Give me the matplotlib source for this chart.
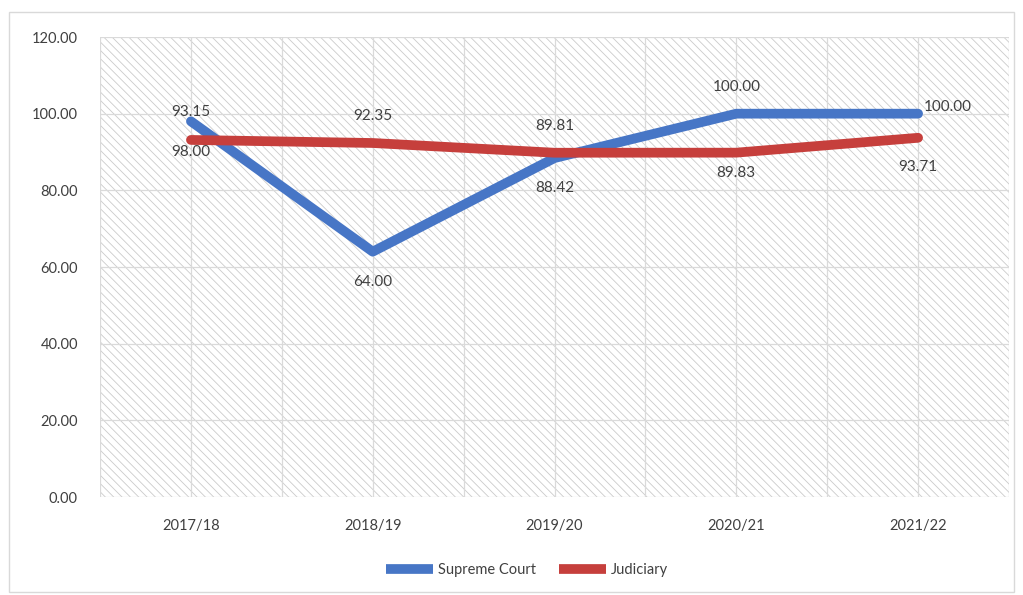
import matplotlib.pyplot as plt
from matplotlib.patches import Rectangle

plt.rcParams['font.family'] = ['Lato', 'DejaVu Sans']
plt.rcParams['hatch.linewidth'] = 0.6

years = ['2017/18', '2018/19', '2019/20', '2020/21', '2021/22']
supreme_court = [98.00, 64.00, 88.42, 100.00, 100.00]
judiciary = [93.15, 92.35, 89.81, 89.83, 93.71]

# label offsets in pixels (dx, dy) for each point
sc_offsets = [(0, -31), (0, -30), (0, -30), (0, 27), (30, 7)]
jud_offsets = [(0, 28), (0, 27), (0, 27), (0, -20), (0, -29)]

blue = '#4776C6'
red = '#C63F3C'
txt = '#404040'

fig = plt.figure(figsize=(10.23, 5.95), dpi=100)
ax = fig.add_axes([0.0978, 0.1647, 0.8885, 0.7731])

# outer chart border
fig.patches.append(Rectangle((9 / 1023, 3 / 595), 1005 / 1023, 580 / 595,
                             transform=fig.transFigure, fill=False,
                             edgecolor='#D9D9D9', linewidth=1))

# hatched plot area
ax.add_patch(Rectangle((0, 0), 1, 1, transform=ax.transAxes, facecolor='white',
                       edgecolor='#CBCBCB', hatch='\\\\\\\\', linewidth=0, zorder=0.2))

x = list(range(len(years)))
ax.plot(x, supreme_court, color=blue, lw=7, solid_capstyle='round',
        solid_joinstyle='round', label='Supreme Court', zorder=3)
ax.plot(x, judiciary, color=red, lw=7, solid_capstyle='round',
        solid_joinstyle='round', label='Judiciary', zorder=3)

for i, v in enumerate(supreme_court):
    dx, dy = sc_offsets[i]
    ax.annotate(f'{v:.2f}', (i, v), xytext=(dx, dy), textcoords='offset pixels',
                ha='center', va='center', fontsize=11, color=txt, zorder=4)
for i, v in enumerate(judiciary):
    dx, dy = jud_offsets[i]
    ax.annotate(f'{v:.2f}', (i, v), xytext=(dx, dy), textcoords='offset pixels',
                ha='center', va='center', fontsize=11, color=txt, zorder=4)

ax.set_xlim(-0.5, 4.5)
ax.set_ylim(0, 120)
ax.set_xticks(x)
ax.set_xticklabels(years)
ax.set_xticks([-0.5, 0.5, 1.5, 2.5, 3.5, 4.5], minor=True)
ax.set_yticks(range(0, 121, 20))
ax.set_yticklabels([f'{v:.2f}' for v in range(0, 121, 20)])

ax.set_axisbelow(True)
ax.grid(True, which='both', color='#DADADA', lw=0.9)
ax.tick_params(which='both', length=0, colors=txt, labelsize=10.5)
ax.tick_params(axis='x', pad=16)
ax.tick_params(axis='y', pad=16)
for s in ax.spines.values():
    s.set_visible(False)

leg = ax.legend(loc='upper center', bbox_to_anchor=(0.47, -0.115), ncol=2,
                frameon=False, fontsize=10.5, handlelength=3.2,
                handletextpad=0.35, columnspacing=1.6, labelcolor=txt)
for h in leg.legend_handles:
    h.set_solid_capstyle('butt')

fig.savefig('out.png', dpi=100)
